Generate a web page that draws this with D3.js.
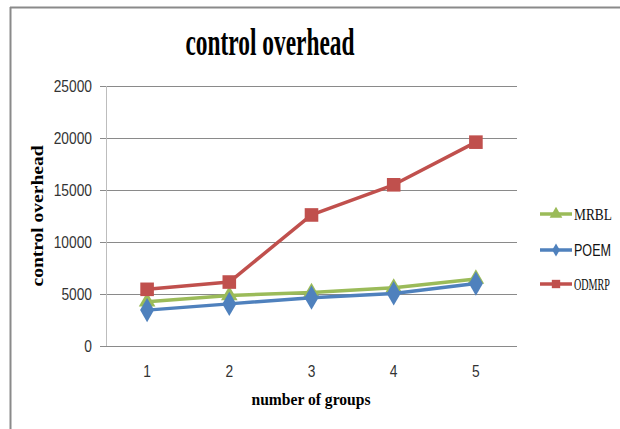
<!DOCTYPE html>
<html><head><meta charset="utf-8">
<script src="https://cdn.jsdelivr.net/npm/d3@7"></script>
<style>body{margin:0;background:#fff}svg{display:block}</style>
</head><body>
<svg id="c" width="620" height="429"></svg>
<script>
const categories = ["1","2","3","4","5"];
const seriesNames = ["MRBL","POEM","ODMRP"];
const mrbl  = [4250, 4850, 5150, 5600, 6450];
const poem  = [3450, 4050, 4650, 5050, 6000];
const odmrp = [5450, 6150, 12600, 15500, 19600];
const yTicks = [0, 5000, 10000, 15000, 20000, 25000];
const colors = ["#9BBB59", "#4F81BD", "#C0504D"];
const shapes = [d3.symbolTriangle, d3.symbolDiamond, d3.symbolSquare];
const values = [mrbl, poem, odmrp];

(function () {
const svg = d3.select("#c");
// outer frame
svg.append("line").attr("x1",10.5).attr("x2",10.5).attr("y1",7).attr("y2",429).attr("stroke","#8a8a8a").attr("stroke-width",2);
svg.append("line").attr("x1",10).attr("x2",620).attr("y1",7.5).attr("y2",7.5).attr("stroke","#8a8a8a").attr("stroke-width",2);

const pL = 106, pR = 517, pT = 86, pB = 346;
const x = d3.scaleBand().domain(categories).range([pL, pR]);
const y = d3.scaleLinear().domain([0, 25000]).range([pB, pT]);

function squeeze(sel, k) {
  sel.each(function () {
    const w = this.getComputedTextLength();
    d3.select(this).attr("textLength", w * k).attr("lengthAdjust", "spacingAndGlyphs");
  });
}

// gridlines
svg.append("g").selectAll("line").data(yTicks).join("line")
  .attr("x1", pL - 6).attr("x2", pR)
  .attr("y1", d => Math.round(y(d)) + 0.5).attr("y2", d => Math.round(y(d)) + 0.5)
  .attr("stroke", "#8a8a8a").attr("stroke-width", 1);
// y axis line
svg.append("line").attr("x1", pL + 0.5).attr("x2", pL + 0.5).attr("y1", pT).attr("y2", pB)
  .attr("stroke", "#bdbdbd").attr("stroke-width", 1);

// y tick labels
svg.append("g").selectAll("text").data(yTicks).join("text")
  .attr("x", 92).attr("y", d => y(d) + 5.5)
  .attr("text-anchor", "end")
  .attr("font-family", "Liberation Sans, Arial, sans-serif")
  .attr("font-size", 16).attr("fill", "#333")
  .text(d => d)
  .call(squeeze, 0.86);

// x tick labels
svg.append("g").selectAll("text").data(categories).join("text")
  .attr("x", d => x(d) + x.bandwidth() / 2).attr("y", 377)
  .attr("text-anchor", "middle")
  .attr("font-family", "Liberation Sans, Arial, sans-serif")
  .attr("font-size", 16).attr("fill", "#333")
  .text(d => d)
  .call(squeeze, 0.86);

// title
svg.append("text").attr("x", 270).attr("y", 55).attr("text-anchor", "middle")
  .attr("font-family", "Liberation Serif, Times New Roman, serif").attr("font-weight", "bold")
  .attr("font-size", 37).attr("textLength", 169).attr("lengthAdjust", "spacingAndGlyphs")
  .text("control overhead");

// axis titles
svg.append("text").attr("transform", "translate(43,216) rotate(-90)").attr("text-anchor", "middle")
  .attr("font-family", "Liberation Serif, Times New Roman, serif").attr("font-weight", "bold")
  .attr("font-size", 17).attr("textLength", 141).attr("lengthAdjust", "spacingAndGlyphs")
  .text("control overhead");
svg.append("text").attr("x", 311).attr("y", 405).attr("text-anchor", "middle")
  .attr("font-family", "Liberation Serif, Times New Roman, serif").attr("font-weight", "bold")
  .attr("font-size", 17).attr("textLength", 119).attr("lengthAdjust", "spacingAndGlyphs")
  .text("number of groups");

// series
const line = d3.line().x((d, i) => x(categories[i]) + x.bandwidth() / 2).y(d => y(d));
const sizes = [120, 170, 185];
values.forEach((vals, s) => {
  const g = svg.append("g");
  g.append("path").attr("d", line(vals)).attr("fill", "none")
    .attr("stroke", colors[s]).attr("stroke-width", 3.5).attr("stroke-linejoin", "round");
  g.selectAll("path.m").data(vals).join("path").attr("class", "m")
    .attr("transform", (d, i) => `translate(${x(categories[i]) + x.bandwidth() / 2},${y(d)})`)
    .attr("d", d3.symbol().type(shapes[s]).size(sizes[s]))
    .attr("fill", colors[s]);
});

// legend
const legY = [214, 250, 284];
const legW = [38, 37, 36];
const legFonts = ["Liberation Serif, Times New Roman, serif", "Liberation Sans, Arial, sans-serif", "Liberation Serif, Times New Roman, serif"];
seriesNames.forEach((name, s) => {
  const g = svg.append("g").attr("transform", `translate(0,${legY[s]})`);
  g.append("line").attr("x1", 540).attr("x2", 572).attr("y1", 0).attr("y2", 0)
    .attr("stroke", colors[s]).attr("stroke-width", 3.5);
  g.append("path").attr("transform", "translate(556,0)")
    .attr("d", d3.symbol().type(shapes[s]).size(s === 1 ? 50 : 70)).attr("fill", colors[s]);
  const tg = g.append("g");
  const t = tg.append("text").attr("x", 0).attr("y", 5.5)
    .attr("font-family", legFonts[s]).attr("font-size", 16).attr("fill", "#111")
    .text(name);
  const w = t.node().getComputedTextLength();
  tg.attr("transform", `translate(574,0) scale(${legW[s] / w},1)`);
});
})();
</script>
</body></html>
